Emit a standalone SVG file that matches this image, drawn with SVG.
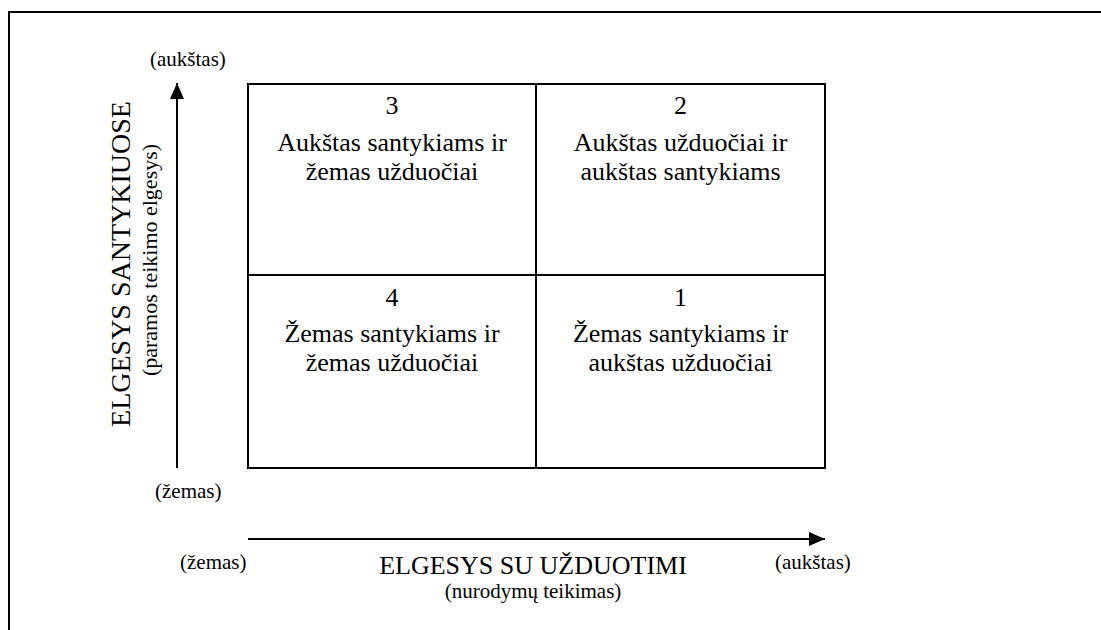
<svg xmlns="http://www.w3.org/2000/svg" width="1101" height="630" viewBox="0 0 1101 630">
<style>
text{font-family:"Liberation Serif","Times New Roman",serif;fill:#000}
.cell{font-size:26px;text-anchor:middle}
.sm{font-size:21px}
.ax{font-size:26px;text-anchor:middle}
.axs{font-size:21px;text-anchor:middle}
.vax{font-size:28px;text-anchor:middle}
.vaxs{font-size:22px;text-anchor:middle}
.ln{stroke:#000;stroke-width:2;fill:none}
</style>
<defs>
<marker id="ah" viewBox="0 0 16 14" refX="16" refY="7" markerWidth="16" markerHeight="14" markerUnits="userSpaceOnUse" orient="auto">
<path d="M0,0 L16,7 L0,14 Z" fill="#000"/>
</marker>
</defs>
<rect width="1101" height="630" fill="#fff"/>
<path class="ln" d="M9,630 V12 H1101"/>
<g id="q3"><rect class="ln" x="248" y="84" width="288" height="191"/>
<text class="cell" x="392" y="114">3</text>
<text class="cell" x="392" y="151">Aukštas santykiams ir</text>
<text class="cell" x="392" y="180">žemas užduočiai</text></g>
<g id="q2"><rect class="ln" x="536" y="84" width="289" height="191"/>
<text class="cell" x="680.5" y="114">2</text>
<text class="cell" x="680.5" y="151">Aukštas užduočiai ir</text>
<text class="cell" x="680.5" y="180">aukštas santykiams</text></g>
<g id="q4"><rect class="ln" x="248" y="275" width="288" height="193"/>
<text class="cell" x="392" y="306">4</text>
<text class="cell" x="392" y="342">Žemas santykiams ir</text>
<text class="cell" x="392" y="371">žemas užduočiai</text></g>
<g id="q1"><rect class="ln" x="536" y="275" width="289" height="193"/>
<text class="cell" x="680.5" y="306">1</text>
<text class="cell" x="680.5" y="342">Žemas santykiams ir</text>
<text class="cell" x="680.5" y="371">aukštas užduočiai</text></g>
<g id="connectors">
<line class="ln" x1="177" y1="468" x2="177" y2="83" marker-end="url(#ah)"/>
<line class="ln" x1="248" y1="539" x2="825" y2="539" marker-end="url(#ah)"/>
</g>
<g id="labels">
<text class="sm" x="150" y="66">(aukštas)</text>
<text class="sm" x="155" y="498">(žemas)</text>
<text class="sm" x="180" y="569">(žemas)</text>
<text class="sm" x="775" y="569">(aukštas)</text>
<text class="ax" x="533" y="574">ELGESYS SU UŽDUOTIMI</text>
<text class="axs" x="533" y="598">(nurodymų teikimas)</text>
<text class="vax" transform="translate(130,264) rotate(-90)">ELGESYS SANTYKIUOSE</text>
<text class="vaxs" transform="translate(157,260) rotate(-90)">(paramos teikimo elgesys)</text>
</g>
</svg>
